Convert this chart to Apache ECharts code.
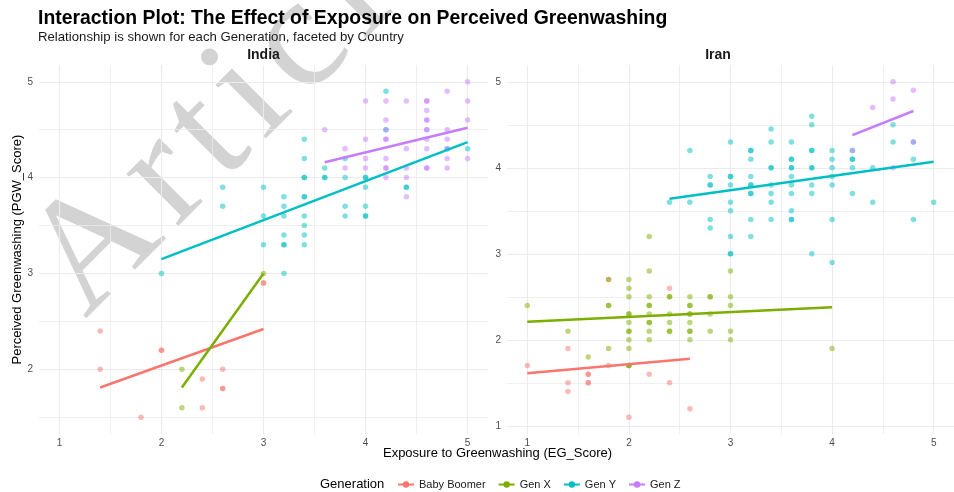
<!DOCTYPE html>
<html>
<head>
<meta charset="utf-8">
<script src="https://cdn.jsdelivr.net/npm/echarts@6.0.0/dist/echarts.min.js"></script>
<style>
  html, body { margin: 0; padding: 0; background: #fff; }
  #main { width: 954px; height: 492px; }
</style>
</head>
<body>
<div id="main"></div>
<script>
// generations and colours (ggplot hue palette)
const generations = ['Baby Boomer', 'Gen X', 'Gen Y', 'Gen Z']
const genColors = ['#F8766D', '#7CAE00', '#00BFC4', '#C77CFF']

// axis ticks
const xTicks = [1, 2, 3, 4, 5]
const xMinor = [1.5, 2.5, 3.5, 4.5]
const indiaYTicks = [2, 3, 4, 5]
const indiaYMinor = [1.5, 2.5, 3.5, 4.5]
const iranYTicks = [1, 2, 3, 4, 5]
const iranYMinor = [1.5, 2.5, 3.5, 4.5]

// India points [EG_Score, PGW_Score]
const indiaBoomer = [[1.4, 2.4], [1.4, 2.0], [1.8, 1.5], [2.0, 2.2], [2.0, 2.2], [2.4, 1.9], [2.4, 1.6],
  [2.6, 2.0], [2.6, 1.8], [2.6, 1.8], [3.0, 2.9], [3.0, 2.9]]
const indiaGenX = [[2.2, 2.0], [2.2, 1.6], [3.0, 3.0]]
const indiaGenY = [[2.0, 3.0], [2.6, 3.9], [2.6, 3.7], [3.0, 3.9], [3.0, 3.6], [3.0, 3.3],
  [3.2, 3.8], [3.2, 3.7], [3.2, 3.6], [3.2, 3.4], [3.2, 3.3], [3.2, 3.3], [3.2, 3.0],
  [3.4, 4.4], [3.4, 4.2], [3.4, 4.0], [3.4, 4.0], [3.4, 3.8], [3.4, 3.8], [3.4, 3.6], [3.4, 3.5], [3.4, 3.4], [3.4, 3.3],
  [3.6, 4.1], [3.6, 4.0], [3.6, 4.0], [3.8, 4.2], [3.8, 4.0], [3.8, 3.7], [3.8, 3.6],
  [4.0, 4.0], [4.0, 4.0], [4.0, 3.9], [4.0, 3.7], [4.0, 3.6], [4.0, 3.6],
  [4.2, 4.9], [4.2, 4.5], [4.4, 3.9], [4.4, 3.9], [4.8, 4.3], [5.0, 4.3]]
const indiaGenZ = [[3.6, 4.5], [3.8, 4.3], [3.8, 4.1], [4.0, 4.8], [4.0, 4.4], [4.0, 4.2], [4.0, 4.1],
  [4.2, 4.8], [4.2, 4.6], [4.2, 4.5], [4.2, 4.4], [4.2, 4.4], [4.2, 4.2], [4.2, 4.1], [4.2, 4.1], [4.2, 4.0],
  [4.4, 4.8], [4.4, 4.3], [4.4, 4.1], [4.4, 4.0], [4.4, 3.8],
  [4.6, 4.8], [4.6, 4.8], [4.6, 4.7], [4.6, 4.6], [4.6, 4.6], [4.6, 4.5], [4.6, 4.5], [4.6, 4.4], [4.6, 4.3], [4.6, 4.1], [4.6, 4.1],
  [4.8, 4.9], [4.8, 4.5], [4.8, 4.4], [4.8, 4.3], [4.8, 4.2], [4.8, 4.1],
  [5.0, 5.0], [5.0, 4.8], [5.0, 4.6], [5.0, 4.2]]

// Iran points
const iranBoomer = [[1.0, 1.7], [1.4, 1.9], [1.4, 1.5], [1.4, 1.4], [1.6, 1.6], [1.6, 1.6], [1.6, 1.5], [1.6, 1.5],
  [1.8, 1.7], [1.8, 2.7], [2.0, 1.7], [2.0, 1.1], [2.2, 1.6], [2.4, 2.6], [2.4, 1.5], [2.6, 1.2]]
const iranGenX = [[1.0, 2.4], [1.4, 2.1], [1.6, 1.8], [1.8, 2.7], [1.8, 2.4], [1.8, 2.4], [1.8, 1.9],
  [2.0, 2.7], [2.0, 2.6], [2.0, 2.5], [2.0, 2.3], [2.0, 2.3], [2.0, 2.2], [2.0, 2.1], [2.0, 2.1], [2.0, 2.0], [2.0, 1.9], [2.0, 1.7], [2.0, 1.7],
  [2.2, 3.2], [2.2, 2.8], [2.2, 2.5], [2.2, 2.4], [2.2, 2.4], [2.2, 2.3], [2.2, 2.2], [2.2, 2.2], [2.2, 2.1], [2.2, 2.0],
  [2.4, 2.5], [2.4, 2.5], [2.4, 2.3], [2.4, 2.2], [2.4, 2.1], [2.4, 2.1],
  [2.6, 2.5], [2.6, 2.4], [2.6, 2.4], [2.6, 2.3], [2.6, 2.3], [2.6, 2.2], [2.6, 2.1], [2.6, 2.1], [2.6, 2.0],
  [2.8, 2.5], [2.8, 2.5], [2.8, 2.3], [2.8, 2.1],
  [3.0, 2.8], [3.0, 2.5], [3.0, 2.4], [3.0, 2.1], [3.0, 2.0], [4.0, 1.9]]
const iranGenY = [[2.4, 3.6], [2.6, 4.2], [2.6, 3.6],
  [2.8, 3.9], [2.8, 3.8], [2.8, 3.8], [2.8, 3.4], [2.8, 3.3],
  [3.0, 4.3], [3.0, 3.9], [3.0, 3.9], [3.0, 3.8], [3.0, 3.6], [3.0, 3.5], [3.0, 3.2], [3.0, 3.0], [3.0, 3.0],
  [3.2, 4.2], [3.2, 4.2], [3.2, 4.1], [3.2, 3.9], [3.2, 3.8], [3.2, 3.8], [3.2, 3.7], [3.2, 3.7], [3.2, 3.4], [3.2, 3.2],
  [3.4, 4.45], [3.4, 4.3], [3.4, 4.0], [3.4, 4.0], [3.4, 3.8], [3.4, 3.7], [3.4, 3.6], [3.4, 3.4],
  [3.6, 4.3], [3.6, 4.1], [3.6, 4.1], [3.6, 4.0], [3.6, 4.0], [3.6, 3.9], [3.6, 3.8], [3.6, 3.7], [3.6, 3.5], [3.6, 3.4], [3.6, 3.4],
  [3.8, 4.6], [3.8, 4.5], [3.8, 4.2], [3.8, 4.2], [3.8, 4.0], [3.8, 4.0], [3.8, 3.8], [3.8, 3.7], [3.8, 3.0],
  [4.0, 4.2], [4.0, 4.1], [4.0, 4.0], [4.0, 3.9], [4.0, 3.8], [4.0, 3.4], [4.0, 2.9],
  [4.2, 4.2], [4.2, 4.1], [4.2, 4.1], [4.2, 4.0], [4.2, 3.7],
  [4.4, 4.0], [4.4, 3.6], [4.6, 4.5], [4.6, 4.3], [4.8, 4.3], [4.8, 4.1], [4.8, 3.4], [5.0, 3.6]]
const iranGenZ = [[4.2, 4.2], [4.4, 4.7], [4.6, 5.0], [4.6, 4.8], [4.6, 4.0], [4.8, 4.9], [4.8, 4.3]]

// fitted lines (lm), start and end points
const indiaFitBoomer = [[1.4, 1.81], [3.0, 2.42]]
const indiaFitGenX = [[2.2, 1.81], [3.0, 3.0]]
const indiaFitGenY = [[2.0, 3.15], [5.0, 4.37]]
const indiaFitGenZ = [[3.6, 4.16], [5.0, 4.52]]
const iranFitBoomer = [[1.0, 1.61], [2.6, 1.78]]
const iranFitGenX = [[1.0, 2.21], [4.0, 2.38]]
const iranFitGenY = [[2.4, 3.64], [5.0, 4.07]]
const iranFitGenZ = [[4.2, 4.38], [4.8, 4.66]]

const indiaPoints = [indiaBoomer, indiaGenX, indiaGenY, indiaGenZ]
const iranPoints = [iranBoomer, iranGenX, iranGenY, iranGenZ]
const indiaFits = [indiaFitBoomer, indiaFitGenX, indiaFitGenY, indiaFitGenZ]
const iranFits = [iranFitBoomer, iranFitGenX, iranFitGenY, iranFitGenZ]

const FONT = '"Liberation Sans", Arial, sans-serif'
const gridColor = '#ebebeb'

function xAxisOf(gridIndex, major) {
  return {
    type: 'value', gridIndex: gridIndex, min: 0.8, max: 5.2,
    axisLine: { show: false },
    axisTick: { show: false, customValues: major ? xTicks : xMinor },
    axisLabel: major
      ? { customValues: xTicks, color: '#4d4d4d', fontSize: 10, fontFamily: FONT, margin: 4 }
      : { show: false },
    splitLine: { show: true, lineStyle: { color: gridColor, width: major ? 1.1 : 0.8 } }
  }
}
function yAxisOf(gridIndex, min, max, ticks, minor, major) {
  return {
    type: 'value', gridIndex: gridIndex, min: min, max: max,
    axisLine: { show: false },
    axisTick: { show: false, customValues: major ? ticks : minor },
    axisLabel: major
      ? { customValues: ticks, color: '#4d4d4d', fontSize: 10, fontFamily: FONT, margin: 6 }
      : { show: false },
    splitLine: { show: true, lineStyle: { color: gridColor, width: major ? 1.1 : 0.8 } }
  }
}

// watermark, drawn letter by letter with extra spacing
function watermark(text, font, spacing) {
  const ctx = document.createElement('canvas').getContext('2d')
  ctx.font = font
  let pos = 0
  const children = []
  text.split('').forEach((ch) => {
    children.push({
      type: 'text', x: pos, y: 0,
      style: { text: ch, font: font, fill: '#d4d3d4', textAlign: 'left', textVerticalAlign: 'bottom' }
    })
    pos += ctx.measureText(ch).width + spacing
  })
  return { type: 'group', x: 112, y: 346, rotation: Math.PI / 4, z: 1, silent: true, children: children }
}

let series = []
// fit lines first so legend icon is line + dot
;[indiaFits, iranFits].forEach((fits, panel) => {
  fits.forEach((fit, i) => {
    series.push({
      name: generations[i], type: 'line', xAxisIndex: panel, yAxisIndex: panel,
      data: fit, symbol: 'circle', symbolSize: 6, showSymbol: false, silent: true, z: 4,
      itemStyle: { color: genColors[i] },
      lineStyle: { color: genColors[i], width: 2.5 }
    })
  })
})
;[indiaPoints, iranPoints].forEach((pts, panel) => {
  pts.forEach((p, i) => {
    series.push({
      name: generations[i], type: 'scatter', xAxisIndex: panel, yAxisIndex: panel,
      data: p, symbolSize: 5.5, z: 3,
      itemStyle: { color: genColors[i], opacity: 0.5 }
    })
  })
})

const myChart = echarts.init(document.getElementById('main'))
const option = {
  animation: false,
  backgroundColor: '#ffffff',
  title: {
    text: 'Interaction Plot: The Effect of Exposure on Perceived Greenwashing',
    subtext: 'Relationship is shown for each Generation, faceted by Country',
    left: 33, top: 4, itemGap: 3,
    textStyle: { fontFamily: FONT, fontSize: 19.4, fontWeight: 'bold', color: '#000' },
    subtextStyle: { fontFamily: FONT, fontSize: 13.2, color: '#1a1a1a' }
  },
  grid: [
    { left: 39, top: 65, width: 449, height: 369 },
    { left: 507, top: 65, width: 449, height: 369 }
  ],
  xAxis: [xAxisOf(0, true), xAxisOf(1, true), xAxisOf(0, false), xAxisOf(1, false)],
  yAxis: [
    yAxisOf(0, 1.325, 5.175, indiaYTicks, indiaYMinor, true),
    yAxisOf(1, 0.905, 5.195, iranYTicks, iranYMinor, true),
    yAxisOf(0, 1.325, 5.175, indiaYTicks, indiaYMinor, false),
    yAxisOf(1, 0.905, 5.195, iranYTicks, iranYMinor, false)
  ],
  legend: {
    data: generations, left: 392, top: 474, itemWidth: 16, itemHeight: 8, itemGap: 12,
    selectedMode: false,
    textStyle: { fontFamily: FONT, fontSize: 11, color: '#1a1a1a' }
  },
  graphic: [
    watermark('Article', '160px "Liberation Serif", serif', 13),
    { type: 'text', x: 263.5, y: 55, style: { text: 'India', font: 'bold 14px ' + FONT, fill: '#1a1a1a', textAlign: 'center', textVerticalAlign: 'middle' } },
    { type: 'text', x: 718, y: 55, style: { text: 'Iran', font: 'bold 14px ' + FONT, fill: '#1a1a1a', textAlign: 'center', textVerticalAlign: 'middle' } },
    { type: 'text', x: 497.5, y: 453, style: { text: 'Exposure to Greenwashing (EG_Score)', font: '13px ' + FONT, fill: '#000', textAlign: 'center', textVerticalAlign: 'middle' } },
    { type: 'text', x: 17, y: 249.5, rotation: Math.PI / 2, style: { text: 'Perceived Greenwashing (PGW_Score)', font: '13px ' + FONT, fill: '#000', textAlign: 'center', textVerticalAlign: 'middle' } },
    { type: 'text', x: 320, y: 484, style: { text: 'Generation', font: '13px ' + FONT, fill: '#000', textAlign: 'left', textVerticalAlign: 'middle' } }
  ],
  series: series
}
myChart.setOption(option)
</script>
</body>
</html>
